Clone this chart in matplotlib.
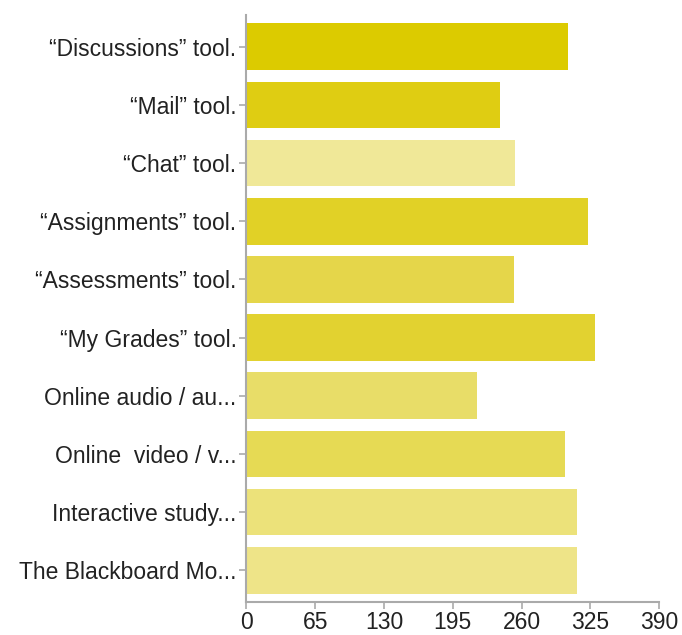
import matplotlib
matplotlib.use("Agg")
import matplotlib.pyplot as plt

categories = ["“Discussions” tool.", "“Mail” tool.", "“Chat” tool.", "“Assignments” tool.",
              "“Assessments” tool.", "“My Grades” tool.", "Online audio / au...",
              "Online  video / v...", "Interactive study...", "The Blackboard Mo..."]
values = [304, 240, 254, 323, 253, 329, 218, 301, 312, 312]
colors = ["#DCCB00", "#DFCD12", "#F0E898", "#E1D126", "#E5D64A", "#E2D230",
          "#E8DD68", "#E6DA54", "#ECE27A", "#EEE488"]
xticks = [0, 65, 130, 195, 260, 325, 390]

plt.rcParams['font.family'] = ['Liberation Sans', 'DejaVu Sans']
fig = plt.figure(figsize=(6.82, 6.35), dpi=100)
ax = fig.add_axes([0.3612, 0.0524, 0.6055, 0.924])
ypos = list(range(len(categories)))
ax.barh(ypos, values, height=0.8, color=colors, edgecolor='none')
ax.set_ylim(9.54, -0.545)
ax.set_xlim(0, 390)
ax.set_xticks(xticks)
ax.set_xticklabels([str(t) for t in xticks])
ax.set_yticks(ypos)
ax.set_yticklabels(categories)
for s in ['top', 'right']:
    ax.spines[s].set_visible(False)
for s in ['left', 'bottom']:
    ax.spines[s].set_color('#aaaaaa')
    ax.spines[s].set_linewidth(1.5)
ax.tick_params(axis='both', colors='#aaaaaa', labelcolor='#222222', length=5, width=1.2, pad=2)
ax.tick_params(axis='y', labelsize=16.5)
ax.tick_params(axis='x', labelsize=16.5)
fig.savefig("out.png", dpi=100)
